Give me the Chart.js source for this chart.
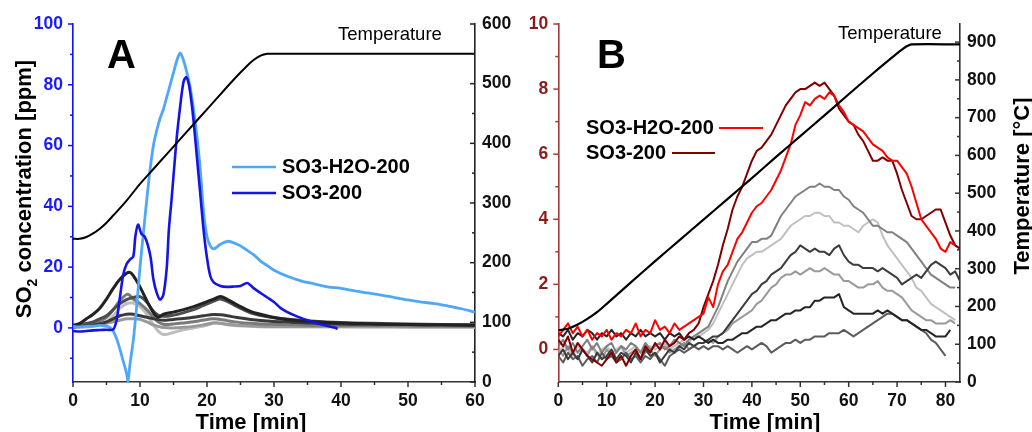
<!DOCTYPE html>
<html><head><meta charset="utf-8">
<script src="https://cdn.jsdelivr.net/npm/chart.js@4/dist/chart.umd.min.js"></script>
<style>
html,body{margin:0;padding:0;background:#fff;width:1032px;height:432px;overflow:hidden}
#wa{position:absolute;left:0;top:0;width:520px;height:432px}
#wb{position:absolute;left:520px;top:0;width:512px;height:432px}
</style></head><body>
<div id="wa"><canvas id="ca" width="520" height="432"></canvas></div>
<div id="wb"><canvas id="cb" width="512" height="432"></canvas></div>
<script>
// ---------------- Panel A data ----------------
const tA_temp = [0,1,2,3,4,5,6,8,10,12,14,16,18,20,22,24,26,27,28,29,30,60];
const A_temp  = [240,240,243,249,257,267,279,304,332,357,382,407,432,457,482,507,530,540,547,550,550,550];

const tA_h2o = [0,1,2,3,4,5,5.5,6,6.5,7,7.5,8,8.2,8.5,9,9.5,10,10.5,11,11.5,12,12.5,13,13.5,14,14.5,15,15.5,16,16.5,17,17.5,18,18.5,19,19.5,20,20.5,21,22,23,24,25,26,27,28,29,30,32,34,36,38,40,42,44,46,48,50,52,54,56,58,60];
const A_h2o  = [0.5,0.3,0.5,0.6,0.8,0.5,0.2,-1,-3.5,-7,-11,-15,-17.5,-12,-4,7,20,31,42,52,60,65,69,72,76,80,84,88,90.5,88,84,79,72,63,52,38,30,27,26,27.5,28.5,28,27,25.5,24,22,20.5,19,17,15.5,14.5,13.5,13,12.2,11.5,10.8,10,9.2,8.5,8,7.2,6.3,5.2];

const tA_so3 = [0,1,2,3,4,5,6,6.5,7,7.5,8,8.5,9,9.3,9.7,10.2,10.7,11.2,11.6,12,12.5,13,13.5,14,14.3,14.7,15,15.5,16,16.5,16.9,17.3,17.7,18,18.5,19,19.5,20,20.5,21,22,23,24,25,26,26.5,27,28,29,30,31,32,33,34,35,36,37,38,39,39.5];
const A_so3  = [-1,-1.2,-1,-0.8,-0.7,-0.6,-0.5,2.5,10,17.5,21,22.5,23.5,30,34,31,30,27,23,16,11.5,9.3,11,20,32,42,50,63,73,81,82.5,80,74,68,56,44,32,23,17,15,13.8,13.5,13.6,13.8,14.8,14,13,11.5,10,8.5,6.5,5.2,4.2,3.3,2.5,1.8,1.2,0.6,0.1,-0.3];

const tA_g = [0,1,2,3,4,5,6,7,8,8.5,9,10,11,12,12.7,13.5,15,16.5,18,19.5,21,22,23,24.5,26.5,29.5,32.5,35.5,40,45,50,55,60];
const A_g1 = [0.8,1.5,3,4.5,6.5,9.5,13,16,18,18.3,17.2,13.5,9,5,3.5,4.5,5.2,6,7,8.2,9.5,10.3,9.4,7.6,5.4,3.7,2.6,2.1,1.6,1.3,1.1,1,0.9];
const A_g2 = [0.5,1,1.5,2,3,4,6,8,9.3,9.7,10,10.3,8.5,5.5,4.2,3.8,4.2,5,6,7.4,8.8,9.5,8.7,7,5,3.5,2.8,2.3,1.8,1.5,1.3,1.1,1];
const A_g3 = [0.3,0.6,0.8,1,1.4,2,3,4,4.5,4.6,4.5,4,3.5,3,2.7,2.5,2.8,3.1,3.5,4,4.4,4.3,4,3.4,2.8,2.2,1.9,1.6,1.3,1.2,1.1,1,0.9];
const A_g4 = [0.5,0.8,1.1,1.5,2.3,3.5,6,9,11,10.7,9.5,8,6,3.5,2,1.2,1.3,1.6,2,2.6,3,2.8,2.4,1.9,1.5,1.2,1,0.9,0.8,0.8,0.7,0.6,0.5];
const A_g5 = [0,0.2,0.3,0.5,1,2,4,6.5,8,8.2,8.2,7,4.5,1,-1,-2.2,-1.5,-0.6,0,0.6,1.5,1.5,1,0.7,0.5,0.3,0.3,0.3,0.3,0.2,0.2,0.2,0.2];
const A_g6 = [0.3,0.5,0.8,1,1.2,1.5,2,2.5,3,3,3,2.8,2,1,0.5,0.1,0,0.2,0.5,1,1.7,1.5,1.2,0.9,0.7,0.5,0.5,0.5,0.5,0.5,0.4,0.4,0.4];

const xTicksA = [0,10,20,30,40,50,60], xMinorA = [5,15,25,35,45,55];
const yTicksA = [0,20,40,60,80,100], yMinorA = [-10,10,30,50,70,90];
const y2TicksA = [0,100,200,300,400,500,600], y2MinorA = [50,150,250,350,450,550];

// ---------------- Panel B data ----------------
const tB = [0,1,2,3,4,5,6,7,8,9,10,11,12,13,14,15,16,17,18,19,20,21,22,23,24,25,26,27,28,29,30,31,32,33,34,35,36,37,38,39,40,41,42,43,44,45,46,47,48,49,50,51,52,53,54,55,56,57,58,59,60,61,62,63,64,65,66,67,68,69,70,71,72,73,74,75,76,77,78,79,80,81,82,83];

const B_h2o = [0.4,0.6,0.8,0.5,0.7,0.4,0.6,0.3,0.5,0.4, 0.6,0.3,0.5,0.4,0.6,0.5,0.8,0.4,0.6,0.5, 0.9,0.6,0.7,0.5,0.8,0.6,0.7,0.8,0.9,1.0,
  1.1,1.6,1.3,2.0,2.4,2.6,3.0,3.4,3.6,3.9, 4.2,4.4,4.5,4.7,4.9,5.2,5.5,5.9,6.3,6.9, 7.2,7.6,7.5,7.7,7.8,7.7,7.9,7.8,7.5,7.3,
  7.0,6.9,6.8,6.7,6.5,6.3,6.2,6.1,5.9,5.8, 5.8,5.6,5.4,5.0,4.5,4.0,3.8,3.6,3.4,3.1, 3.0,3.3,3.2];
const B_so3 = [0.3,0.1,0.4,-0.1,0.2,0.0,-0.2,-0.3,-0.4,-0.5, -0.3,-0.1,-0.4,-0.2,-0.5,-0.2,0.0,-0.3,0.1,-0.1, 0.2,0.0,0.3,0.1,0.2,0.4,0.3,0.5,0.6,0.8,
  1.3,1.7,2.1,2.6,3.2,3.7,4.3,4.7,5.0,5.4, 5.8,6.1,6.2,6.4,6.6,6.9,7.2,7.5,7.7,7.9, 8.0,8.0,8.1,8.2,8.1,8.2,8.0,7.8,7.4,7.2,
  7.0,6.9,6.6,6.4,6.1,5.8,5.8,5.9,5.8,5.8, 5.4,4.9,4.5,4.1,4.0,4.0,4.1,4.2,4.3,4.3, 3.9,3.5,3.2,3.1];
const B_g1 = [0.1,0.3,0.0,0.2,-0.1,0.1,0.3,0.0,0.2,-0.1, 0.1,0.2,-0.1,0.1,0.0,0.2,0.1,-0.1,0.2,0.0, 0.1,0.2,0.0,0.1,0.3,0.2,0.1,0.3,0.4,0.5,
  0.6,0.7,1.0,1.3,1.7,2.1,2.4,2.7,2.9,3.1, 3.3,3.3,3.4,3.4,3.5,3.8,4.1,4.3,4.5,4.7, 4.8,4.9,5.0,5.0,5.1,5.0,5.0,4.9,4.9,4.7,
  4.6,4.4,4.3,4.2,4.0,3.8,3.8,3.7,3.6,3.6, 3.5,3.4,3.3,3.1,2.9,2.7,2.5,2.3,2.2,2.1, 2.0,1.9,1.9];
const B_g2 = [-0.1,0.1,0.0,-0.2,0.1,0.0,-0.1,0.1,-0.2,0.0, 0.1,-0.1,0.0,0.1,-0.1,0.0,0.1,-0.1,0.0,0.1, 0.0,0.1,0.2,0.0,0.1,0.2,0.3,0.2,0.4,0.4,
  0.5,0.6,0.8,1.1,1.4,1.7,2.0,2.3,2.6,2.8, 2.9,3.0,3.0,3.1,3.2,3.3,3.4,3.6,3.8,3.9, 4.0,4.1,4.1,4.2,4.2,4.1,4.1,3.9,3.9,3.8,
  3.8,3.7,3.6,3.8,3.9,4.0,3.9,3.5,3.2,3.0, 2.8,2.6,2.4,2.2,1.9,1.8,1.6,1.4,1.3,1.2, 1.1,1.0,0.9];
const B_g3 = [-0.2,0.0,-0.3,-0.1,-0.3,0.0,-0.2,-0.4,-0.1,-0.3, -0.2,0.0,-0.3,-0.1,-0.2,-0.4,-0.1,-0.3,0.0,-0.2, -0.1,-0.4,-0.2,0.0,-0.1,0.1,0.0,0.2,0.1,0.2,
  0.2,0.3,0.4,0.4,0.5,0.7,0.9,1.1,1.3,1.5, 1.7,1.8,2.0,2.1,2.3,2.4,2.5,2.7,2.9,3.0, 3.2,3.1,3.0,3.1,3.0,3.0,2.9,3.1,3.2,2.9,
  2.7,2.6,2.6,2.5,2.5,2.5,2.4,2.5,2.4,2.3, 2.2,2.0,2.1,2.2,2.3,2.2,2.4,2.6,2.7,2.6, 2.5,2.3,2.4,2.1];
const B_g4 = [0.0,-0.2,0.1,-0.1,-0.3,0.0,-0.2,0.1,-0.1,-0.3, 0.0,-0.2,-0.1,0.1,-0.2,-0.1,0.0,-0.3,-0.1,0.0, -0.2,0.0,0.1,-0.1,0.0,0.1,0.2,0.0,0.1,0.2,
  0.2,0.3,0.2,0.4,0.5,0.6,0.8,0.9,1.0,1.1, 1.2,1.4,1.5,1.7,1.9,2.0,2.2,2.3,2.3,2.4, 2.3,2.4,2.5,2.4,2.4,2.5,2.4,2.3,2.3,2.1,
  2.1,2.0,1.9,1.9,2.0,2.0,2.1,1.9,1.8,1.8, 1.7,1.6,1.4,1.2,1.1,1.0,0.9,0.9,0.8,0.8, 0.8,0.9,0.8];
const B_g5 = [0.5,0.4,0.6,0.3,0.5,0.4,0.6,0.5,0.3,0.5, 0.4,0.6,0.4,0.5,0.3,0.5,0.4,0.6,0.4,0.5, 0.4,0.5,0.3,0.5,0.4,0.5,0.3,0.4,0.3,0.4,
  0.3,0.2,0.3,0.2,0.2,0.3,0.3,0.4,0.5,0.5, 0.6,0.7,0.7,0.8,0.9,0.9,1.0,1.1,1.1,1.2, 1.2,1.3,1.3,1.5,1.5,1.6,1.6,1.6,1.7,1.3,
  1.2,1.1,1.1,1.1,1.1,1.1,1.2,1.1,1.2,1.1, 1.0,0.9,0.9,0.8,0.7,0.6,0.6,0.5,0.4,0.4, 0.4,0.6];
const B_g6 = [-0.2,-0.4,-0.1,-0.3,-0.2,-0.5,-0.3,-0.2,-0.4,-0.1, -0.3,-0.2,-0.4,-0.3,-0.1,-0.3,-0.2,-0.4,-0.2,-0.3, -0.1,-0.3,-0.5,-0.2,-0.1,0.0,-0.1,0.0,0.1,0.0,
  0.1,0.0,0.1,0.1,0.0,0.1,0.0,-0.1,0.0,0.1, 0.0,0.1,0.2,0.1,-0.1,0.0,0.1,0.2,0.2,0.3, 0.2,0.3,0.3,0.4,0.4,0.4,0.5,0.5,0.5,0.6,
  0.5,0.4,0.5,0.6,0.7,0.8,0.9,1.0,1.1,1.1, 1.0,0.9,0.9,0.8,0.7,0.6,0.5,0.3,0.2,0.0, -0.2];

const tB_temp = [0,2,4,6,8,10,15,20,25,30,35,40,45,50,55,60,65,70,71,72,73,83];
const B_temp  = [137,141,152,167,185,207,264,320,375,430,485,540,596,651,706,762,817,870,880,889,894,894];

const xTicksB = [0,10,20,30,40,50,60,70,80], xMinorB = [5,15,25,35,45,55,65,75];
const yTicksB = [0,2,4,6,8,10], yMinorB = [1,3,5,7,9];
const y2TicksB = [0,100,200,300,400,500,600,700,800,900], y2MinorB = [50,150,250,350,450,550,650,750,850];

// ---------------- helpers ----------------
const FF = '"Liberation Sans", Arial, Helvetica, sans-serif';
const pts = (xs, ys) => ys.map((y, i) => ({x: xs[i], y}));

const tickMarks = {
  id: 'tickMarks',
  afterDatasetsDraw(chart, args, opts) {
    const ctx = chart.ctx;
    (opts.items || []).forEach(it => {
      const s = chart.scales[it.scale];
      ctx.save();
      ctx.strokeStyle = it.color; ctx.lineWidth = 1.5;
      const sign = it.dir === 'out' ? 1 : -1;
      [[it.major, 5], [it.minor, 3]].forEach(([vals, len]) => {
        vals.forEach(v => {
          const p = s.getPixelForValue(v);
          ctx.beginPath();
          if (s.position === 'bottom') { ctx.moveTo(p, s.top); ctx.lineTo(p, s.top + sign * len); }
          else if (s.position === 'left') { ctx.moveTo(s.right, p); ctx.lineTo(s.right - sign * len, p); }
          else { ctx.moveTo(s.left, p); ctx.lineTo(s.left + sign * len, p); }
          ctx.stroke();
        });
      });
      ctx.restore();
    });
  }
};

const texts = {
  id: 'texts',
  afterDraw(chart, args, opts) {
    const ctx = chart.ctx;
    (opts.lines || []).forEach(l => {
      ctx.save(); ctx.strokeStyle = l.color; ctx.lineWidth = l.width;
      ctx.beginPath(); ctx.moveTo(l.x1, l.y); ctx.lineTo(l.x2, l.y); ctx.stroke(); ctx.restore();
    });
    (opts.items || []).forEach(t => {
      ctx.save();
      ctx.translate(t.x, t.y); if (t.rot) ctx.rotate(t.rot);
      ctx.fillStyle = t.color || '#000';
      ctx.textBaseline = t.baseline || 'alphabetic';
      const parts = t.parts || [{text: t.text, font: t.font, dy: 0}];
      let total = 0;
      parts.forEach(p => { ctx.font = p.font; p.w = ctx.measureText(p.text).width; total += p.w; });
      let x = t.align === 'center' ? -total / 2 : 0;
      ctx.textAlign = 'left';
      parts.forEach(p => { ctx.font = p.font; ctx.fillText(p.text, x, p.dy || 0); x += p.w; });
      ctx.restore();
    });
  }
};

function axis(opts) {
  return {
    type: 'linear', position: opts.pos, min: opts.min, max: opts.max,
    afterFit: s => { if (opts.pos === 'bottom') s.height = opts.size; else s.width = opts.size; },
    afterBuildTicks: s => { s.ticks = opts.ticks.map(v => ({value: v})); },
    grid: {display: false, drawTicks: false},
    border: {display: true, color: opts.axisColor, width: 1.6},
    ticks: {padding: opts.pad, color: opts.labelColor, autoSkip: false, maxRotation: 0,
            font: {family: FF, size: 17.5, weight: 'bold'}, callback: v => String(v)}
  };
}

function line(label, data, color, width, yAxisID, tension) {
  return {label, data, borderColor: color, backgroundColor: color, borderWidth: width,
          pointRadius: 0, fill: false, yAxisID, tension: tension || 0, borderJoinStyle: 'round'};
}

Chart.defaults.font.family = FF;

// ---------------- Chart A ----------------
new Chart(document.getElementById('ca'), {
  type: 'line',
  data: {datasets: [
    line('Temperature', pts(tA_temp, A_temp), '#000000', 2, 'y2', 0.35),
    line('SO3-200', pts(tA_so3, A_so3), '#1414e6', 2.6, 'y', 0.3),
    line('SO3-H2O-200', pts(tA_h2o, A_h2o), '#4fa8f7', 2.8, 'y', 0.3),
    line('g1', pts(tA_g, A_g1), '#222222', 3, 'y', 0.35),
    line('g2', pts(tA_g, A_g2), '#4d4d4d', 3, 'y', 0.35),
    line('g3', pts(tA_g, A_g3), '#3a3a3a', 3, 'y', 0.35),
    line('g4', pts(tA_g, A_g4), '#7a7a7a', 3, 'y', 0.35),
    line('g6', pts(tA_g, A_g6), '#999999', 3, 'y', 0.35),
    line('g5', pts(tA_g, A_g5), '#bdbdbd', 3, 'y', 0.35)
  ]},
  options: {
    responsive: false, animation: false, events: [],
    layout: {padding: {top: 24, left: 0, right: 0, bottom: 0}},
    scales: {
      x: axis({pos: 'bottom', min: 0, max: 60, size: 50, ticks: xTicksA, pad: 9, axisColor: '#333', labelColor: '#111'}),
      y: axis({pos: 'left', min: -17.8, max: 100, size: 73, ticks: yTicksA, pad: 10, axisColor: '#1010ff', labelColor: '#1a1aff'}),
      y2: axis({pos: 'right', min: 0, max: 600, size: 45, ticks: y2TicksA, pad: 7, axisColor: '#222', labelColor: '#111'})
    },
    plugins: {
      legend: {display: false}, tooltip: {enabled: false},
      tickMarks: {items: [
        {scale: 'x', major: xTicksA, minor: xMinorA, dir: 'out', color: '#333'},
        {scale: 'y', major: yTicksA, minor: yMinorA, dir: 'out', color: '#1010ff'},
        {scale: 'y2', major: y2TicksA, minor: y2MinorA, dir: 'in', color: '#222'}
      ]},
      texts: {
        lines: [
          {x1: 232, x2: 276, y: 167, color: '#4fa8f7', width: 2.6},
          {x1: 232, x2: 276, y: 193, color: '#1414e6', width: 2.6}
        ],
        items: [
          {text: 'A', x: 107, y: 68, font: 'bold 40px ' + FF},
          {text: 'Temperature', x: 338, y: 40, font: '18.5px ' + FF},
          {text: 'SO3-H2O-200', x: 282, y: 167, baseline: 'middle', font: 'bold 20px ' + FF},
          {text: 'SO3-200', x: 282, y: 193, baseline: 'middle', font: 'bold 20px ' + FF},
          {text: 'Time [min]', x: 251, y: 429, align: 'center', font: 'bold 22px ' + FF},
          {x: 31, y: 189, rot: -Math.PI / 2, align: 'center', parts: [
            {text: 'SO', font: 'bold 22px ' + FF, dy: 0},
            {text: '2', font: 'bold 14px ' + FF, dy: 6},
            {text: ' concentration [ppm]', font: 'bold 22px ' + FF, dy: 0}
          ]}
        ]
      }
    }
  },
  plugins: [tickMarks, texts]
});

// ---------------- Chart B ----------------
new Chart(document.getElementById('cb'), {
  type: 'line',
  data: {datasets: [
    line('Temperature', pts(tB_temp, B_temp), '#000000', 2.2, 'y2', 0.3),
    line('SO3-H2O-200', pts(tB, B_h2o), '#ff0000', 2, 'y'),
    line('SO3-200', pts(tB, B_so3), '#800000', 2, 'y'),
    line('g5', pts(tB, B_g5), '#262626', 2, 'y'),
    line('g3', pts(tB, B_g3), '#3d3d3d', 2, 'y'),
    line('g6', pts(tB, B_g6), '#5c5c5c', 2, 'y'),
    line('g1', pts(tB, B_g1), '#808080', 2, 'y'),
    line('g4', pts(tB, B_g4), '#9a9a9a', 2, 'y'),
    line('g2', pts(tB, B_g2), '#c0c0c0', 2, 'y')
  ]},
  options: {
    responsive: false, animation: false, events: [],
    layout: {padding: {top: 24, left: 0, right: 0, bottom: 0}},
    scales: {
      x: axis({pos: 'bottom', min: 0, max: 83, size: 50, ticks: xTicksB, pad: 9, axisColor: '#333', labelColor: '#111'}),
      y: axis({pos: 'left', min: -1, max: 10, size: 38.3, ticks: yTicksB, pad: 10, axisColor: '#a33a3a', labelColor: '#8b1a1a'}),
      y2: axis({pos: 'right', min: 0, max: 948, size: 72, ticks: y2TicksB, pad: 7, axisColor: '#333', labelColor: '#111'})
    },
    plugins: {
      legend: {display: false}, tooltip: {enabled: false},
      tickMarks: {items: [
        {scale: 'x', major: xTicksB, minor: xMinorB, dir: 'out', color: '#333'},
        {scale: 'y', major: yTicksB, minor: yMinorB, dir: 'out', color: '#a33a3a'},
        {scale: 'y2', major: y2TicksB, minor: y2MinorB, dir: 'in', color: '#333'}
      ]},
      texts: {
        lines: [
          {x1: 199, x2: 243, y: 128, color: '#ff0000', width: 2},
          {x1: 152, x2: 195, y: 153, color: '#800000', width: 2}
        ],
        items: [
          {text: 'B', x: 77, y: 68, font: 'bold 40px ' + FF},
          {text: 'Temperature', x: 318, y: 38.5, font: '18.5px ' + FF},
          {text: 'SO3-H2O-200', x: 66, y: 128, baseline: 'middle', font: 'bold 20px ' + FF},
          {text: 'SO3-200', x: 66, y: 153, baseline: 'middle', font: 'bold 20px ' + FF},
          {text: 'Time [min]', x: 245, y: 429, align: 'center', font: 'bold 22px ' + FF},
          {text: 'Temperature [°C]', x: 509, y: 186, rot: -Math.PI / 2, align: 'center', font: 'bold 22px ' + FF}
        ]
      }
    }
  },
  plugins: [tickMarks, texts]
});
</script>
</body></html>
